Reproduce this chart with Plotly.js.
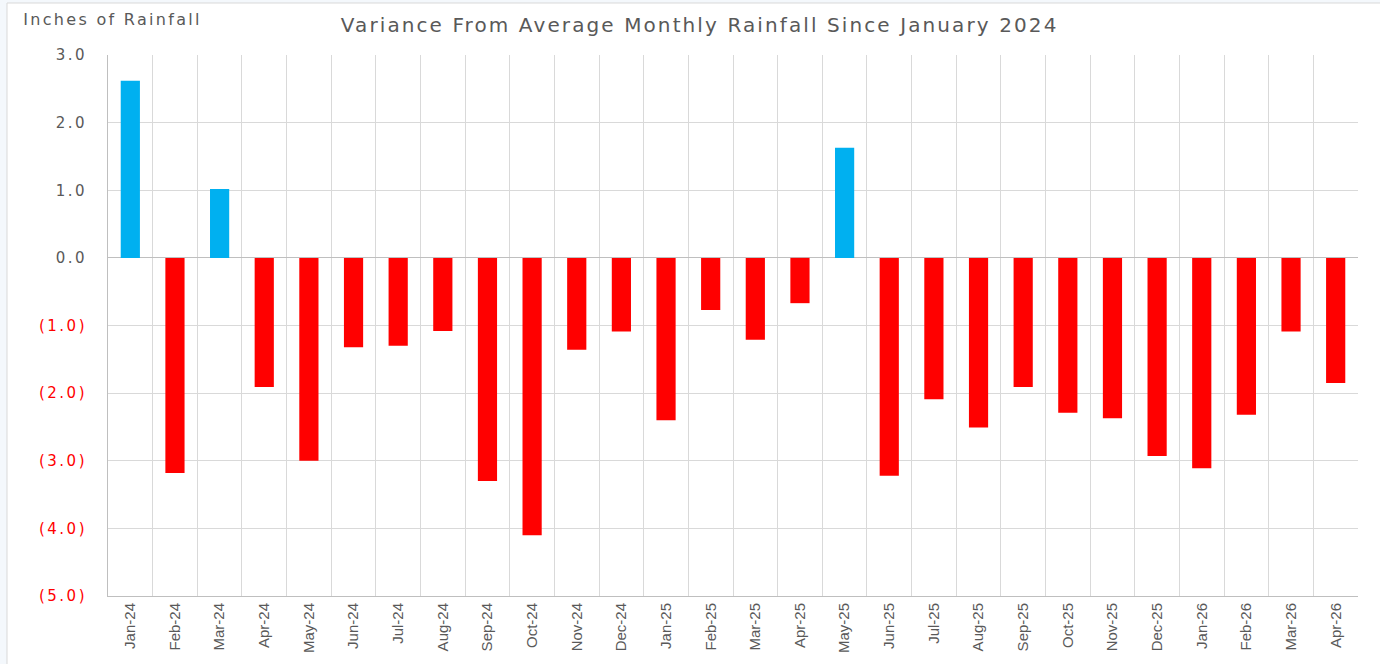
<!DOCTYPE html>
<html>
<head>
<meta charset="utf-8">
<script src="https://cdn.plot.ly/plotly-3.0.1.min.js"></script>
<style>
html,body{margin:0;padding:0;background:#F4F8FC;}
#chart{width:1380px;height:664px;}
#chart .gtitle{letter-spacing:2.1px;}
#chart .annotation-text{letter-spacing:2.3px;}
#chart .ytick text{letter-spacing:2.5px;}
</style>
</head>
<body>
<div id="chart"></div>
<script>
const months = ["Jan-24","Feb-24","Mar-24","Apr-24","May-24","Jun-24","Jul-24","Aug-24","Sep-24","Oct-24","Nov-24","Dec-24",
  "Jan-25","Feb-25","Mar-25","Apr-25","May-25","Jun-25","Jul-25","Aug-25","Sep-25","Oct-25","Nov-25","Dec-25",
  "Jan-26","Feb-26","Mar-26","Apr-26"];
const variance = [2.62,-3.18,1.02,-1.91,-3.00,-1.32,-1.30,-1.08,-3.30,-4.10,-1.36,-1.09,
  -2.40,-0.77,-1.21,-0.67,1.63,-3.22,-2.09,-2.51,-1.91,-2.29,-2.37,-2.93,
  -3.11,-2.32,-1.09,-1.85];
const yTickVals = [3,2,1,0,-1,-2,-3,-4,-5];
const yTickText = ["3.0","2.0","1.0","0.0",
  "<span style='color:#FF0000'>(1.0)</span>","<span style='color:#FF0000'>(2.0)</span>",
  "<span style='color:#FF0000'>(3.0)</span>","<span style='color:#FF0000'>(4.0)</span>",
  "<span style='color:#FF0000'>(5.0)</span>"];
const titleText = "Variance From Average Monthly Rainfall Since January 2024";
const yLabel = "Inches of Rainfall";

const colors = variance.map(v => v >= 0 ? "#00B0F0" : "#FF0000");

const trace = {
  type: "bar",
  x: months,
  y: variance,
  marker: {color: colors, line: {width: 0}},
  hoverinfo: "x+y"
};

const layout = {
  width: 1380, height: 664,
  margin: {l: 108, r: 22, t: 55, b: 68},
  paper_bgcolor: "#F4F8FC",
  plot_bgcolor: "rgba(0,0,0,0)",
  bargap: 0.57,
  showlegend: false,
  title: {text: titleText, x: 0.507, xanchor: "center", y: 0.963, yanchor: "middle",
    font: {family: "DejaVu Sans", size: 20, color: "#595959"}},
  xaxis: {
    type: "category",
    tickson: "boundaries",
    showgrid: true, gridcolor: "#D9D9D9", gridwidth: 1,
    showline: true, linecolor: "#BFBFBF", linewidth: 1,
    ticks: "", tickangle: -90,
    tickfont: {family: "Liberation Sans Narrow, Liberation Sans, Arial", size: 15, color: "#595959"},
    mirror: false
  },
  yaxis: {
    range: [-5, 3],
    tickvals: yTickVals, ticktext: yTickText,
    showgrid: true, gridcolor: "#D9D9D9", gridwidth: 1,
    zeroline: true, zerolinecolor: "#BFBFBF", zerolinewidth: 1,
    showline: true, linecolor: "#BFBFBF", linewidth: 1,
    ticks: "", ticklabelstandoff: 17,
    tickfont: {family: "DejaVu Sans", size: 15, color: "#595959"}
  },
  shapes: [
    {type: "rect", xref: "paper", yref: "paper",
     x0: -101/1250, x1: 1.1, y0: -0.2, y1: 1 + 52/541,
     fillcolor: "#FFFFFF", line: {color: "#D9D9D9", width: 1}, layer: "below"}
  ],
  annotations: [
    {text: yLabel, xref: "paper", yref: "paper", x: 4/1250, y: 1 + 36/541,
     xanchor: "center", yanchor: "middle", showarrow: false,
     font: {family: "DejaVu Sans", size: 16, color: "#595959"}}
  ]
};

Plotly.newPlot("chart", [trace], layout, {displayModeBar: false, staticPlot: true});
</script>
</body>
</html>
